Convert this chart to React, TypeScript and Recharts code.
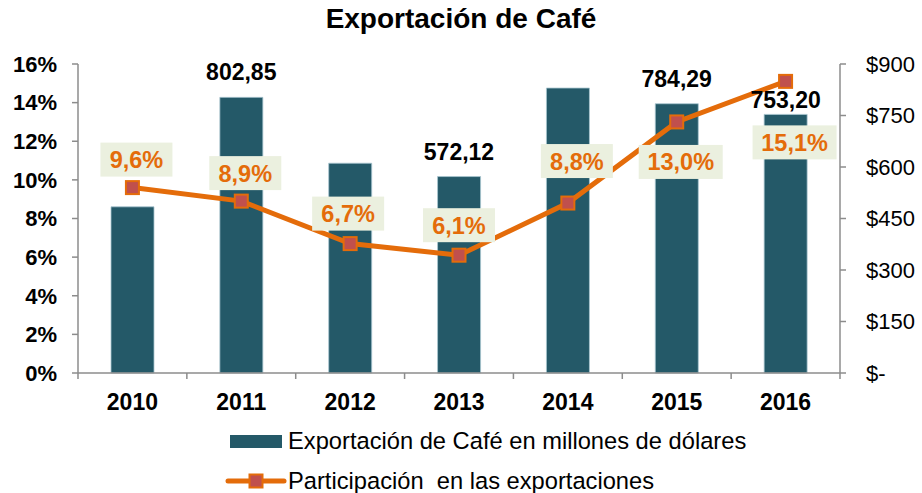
import React from 'react';
import { ComposedChart, Bar, Line, XAxis, YAxis, LabelList } from 'recharts';

// valores
const years = ['2010', '2011', '2012', '2013', '2014', '2015', '2016'];
const exportUsd = [484, 802.85, 611, 572.12, 830, 784.29, 753.2];
const exportLabels = ['', '802,85', '', '572,12', '', '784,29', '753,20'];
const sharePct = [9.6, 8.9, 6.7, 6.1, 8.8, 13.0, 15.1];
const shareLabels = ['9,6%', '8,9%', '6,7%', '6,1%', '8,8%', '13,0%', '15,1%'];
const pctTicks = [0, 2, 4, 6, 8, 10, 12, 14, 16];
const usdTicks = [0, 150, 300, 450, 600, 750, 900];

const data = years.map((y, i) => ({
    year: y,
    usd: exportUsd[i],
    usdLabel: exportLabels[i],
    pct: sharePct[i],
    pctLabel: shareLabels[i],
}));

// label placement tweaks (px), like the excel layout
const boxDy = [-28, -28, -30, -30, -42, 40, 61];
const boxDx = [4, 4, -2, 0, 9, 4, 9];
const barLabelLift = [17, 17, 17, 17, 17, 17, 6];

const FONT = '"Liberation Sans", Arial, sans-serif';
const BAR = '#245968';
const ORANGE = '#E46C0A';
const MARKER = '#C0504D';
const AXIS = '#8c8c8c';

const YearTick = ({ x, y, payload, index }: any) => {
    const half = 108.86 / 2;
    return (
        <g>
            <line x1={x - half} x2={x - half} y1={y} y2={y + 6} stroke={AXIS} strokeWidth={1.5} />
            {index === years.length - 1 && (
                <line x1={x + half} x2={x + half} y1={y} y2={y + 6} stroke={AXIS} strokeWidth={1.5} />
            )}
            <text x={x} y={y + 37} textAnchor="middle" fontFamily={FONT} fontWeight="bold" fontSize={23} fill="#000">
                {payload.value}
            </text>
        </g>
    );
};

const BarValueLabel = (props: any) => {
    const { x, y, width, index, value } = props;
    if (!value) return null;
    return (
        <text x={x + width / 2} y={y - barLabelLift[index]} textAnchor="middle" fontFamily={FONT} fontWeight="bold" fontSize={23} fill="#000">
            {value}
        </text>
    );
};

const ShareLabel = (props: any) => {
    const { x, y, index, value } = props;
    const w = String(value).length > 4 ? 84 : 72;
    const h = 34;
    const cx = x + boxDx[index];
    const cy = y + boxDy[index];
    return (
        <g>
            <rect x={cx - w / 2} y={cy - h / 2} width={w} height={h} fill="#EBF0DF" />
            <text x={cx} y={cy + 8.5} textAnchor="middle" fontFamily={FONT} fontWeight="bold" fontSize={23.5} fill={ORANGE}>
                {value}
            </text>
        </g>
    );
};

const SquareDot = (props: any) => {
    const { cx, cy, index } = props;
    return <rect key={`dot-${index}`} x={cx - 6.5} y={cy - 6.5} width={13} height={13} fill={MARKER} stroke={ORANGE} strokeWidth={2} />;
};

export default function App() {
    return (
        <div style={{ position: 'absolute', left: 0, top: 0, width: 922, height: 493, background: '#fff', fontFamily: FONT }}>
            <div style={{ position: 'absolute', left: 0, width: 922, top: 3, textAlign: 'center', fontWeight: 'bold', fontSize: 28 }}>
                Exportación de Café
            </div>
            <ComposedChart width={922} height={493} data={data} margin={{ top: 64, right: 0, bottom: 90, left: 0 }}>
                <XAxis
                    dataKey="year"
                    height={30}
                    tick={<YearTick />}
                    tickLine={false}
                    tickSize={0}
                    tickMargin={0}
                    axisLine={{ stroke: AXIS, strokeWidth: 1.5 }}
                    interval={0}
                />
                <YAxis
                    yAxisId="pct"
                    orientation="left"
                    width={78}
                    domain={[0, 16]}
                    ticks={pctTicks}
                    tickFormatter={(v) => `${v}%`}
                    tick={{ fill: '#000', fontSize: 22, fontWeight: 'bold', fontFamily: FONT }}
                    tickSize={6}
                    tickMargin={15}
                    tickLine={{ stroke: AXIS, strokeWidth: 1.5 }}
                    axisLine={{ stroke: AXIS, strokeWidth: 1.5 }}
                    interval={0}
                />
                <YAxis
                    yAxisId="usd"
                    orientation="right"
                    width={82}
                    domain={[0, 900]}
                    ticks={usdTicks}
                    tickFormatter={(v) => (v === 0 ? '$-' : `$${v}`)}
                    tick={{ fill: '#000', fontSize: 22, fontFamily: FONT }}
                    tickSize={6}
                    tickMargin={20}
                    tickLine={{ stroke: AXIS, strokeWidth: 1.5 }}
                    axisLine={{ stroke: AXIS, strokeWidth: 1.5 }}
                    interval={0}
                />
                <Bar yAxisId="usd" dataKey="usd" fill={BAR} stroke="#a9c6d0" strokeWidth={0.8} barSize={43} isAnimationActive={false} />
                <Line
                    yAxisId="pct"
                    dataKey="pct"
                    stroke={ORANGE}
                    strokeWidth={5}
                    dot={SquareDot}
                    activeDot={false}
                    isAnimationActive={false}
                >
                    <LabelList dataKey="pctLabel" content={ShareLabel} />
                </Line>
                {/* invisible series only to put the bar values above the line */}
                <Line yAxisId="usd" dataKey="usd" stroke="none" dot={false} activeDot={false} isAnimationActive={false}>
                    <LabelList dataKey="usdLabel" content={(p: any) => <BarValueLabel {...p} x={p.x - 21.5} width={43} />} />
                </Line>
            </ComposedChart>
            <div style={{ position: 'absolute', left: 230, top: 435, width: 52, height: 13, background: BAR }} />
            <div style={{ position: 'absolute', left: 288, top: 427, fontSize: 23.7, lineHeight: '28px', whiteSpace: 'pre' }}>
                Exportación de Café en millones de dólares
            </div>
            <svg style={{ position: 'absolute', left: 224, top: 470 }} width={64} height={22}>
                <line x1={4} x2={60} y1={11} y2={11} stroke={ORANGE} strokeWidth={5} strokeLinecap="round" />
                <rect x={25.5} y={4.5} width={13} height={13} fill={MARKER} stroke={ORANGE} strokeWidth={2} />
            </svg>
            <div style={{ position: 'absolute', left: 288, top: 467, fontSize: 23.7, lineHeight: '28px', whiteSpace: 'pre' }}>
                Participación  en las exportaciones
            </div>
        </div>
    );
}
